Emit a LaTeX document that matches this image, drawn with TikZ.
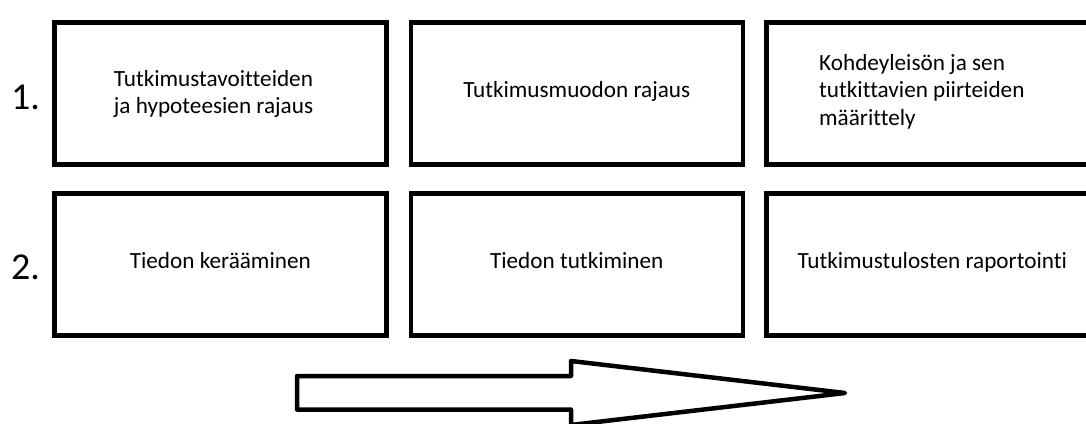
\documentclass[tikz,border=0pt]{standalone}
\usepackage{fontspec}
\setmainfont[Ligatures=CommonOff]{Carlito}
\begin{document}
\begin{tikzpicture}[x=1pt,y=-1pt,
  stepbox/.style={draw=black,line width=4.5pt,fill=white,minimum width=332pt,minimum height=142pt,inner sep=0pt,align=center,
    font=\fontsize{23.2}{26.5}\selectfont,text height=15pt,text depth=6pt,anchor=north west},
  boxtext/.style={inner sep=0pt,font=\fontsize{23.2}{26.5}\selectfont},
  numlabel/.style={inner sep=0pt,font=\fontsize{38}{40}\selectfont,anchor=base west},
  bigarrow/.style={draw=black,line width=4.5pt,line join=round,fill=white}]
\useasboundingbox (0,0) rectangle (1086,423);
\clip (0,0) rectangle (1086,423);
% row 1
\node[stepbox] (a1) at (52,20) {};
\node[boxtext,anchor=base,align=center] (a1t) at (213.5,113) {Tutkimustavoitteiden\\ja hypoteesien rajaus};
\node[stepbox] (a2) at (408.5,20) {Tutkimusmuodon rajaus};
\node[stepbox] (a3) at (764,20) {};
\node[boxtext,anchor=base west,align=left,font=\fontsize{23.2}{27.5}\selectfont] (a3t) at (819,125) {Kohdeyleisön ja sen\\tutkittavien piirteiden\\määrittely};
% row 2
\node[stepbox] (b1) at (52,191) {Tiedon kerääminen};
\node[stepbox] (b2) at (408.5,191) {Tiedon tutkiminen};
\node[stepbox] (b3) at (764,191) {Tutkimustulosten raportointi};
% numbers
\node[numlabel] (n1) at (11,109) {1.};
\node[numlabel] (n2) at (11,279) {2.};
% arrow
\draw[bigarrow] (297,376) -- (571,376) -- (571,361) -- (845,393) -- (571,425) -- (571,409.5) -- (297,409.5) -- cycle;
\end{tikzpicture}
\end{document}
